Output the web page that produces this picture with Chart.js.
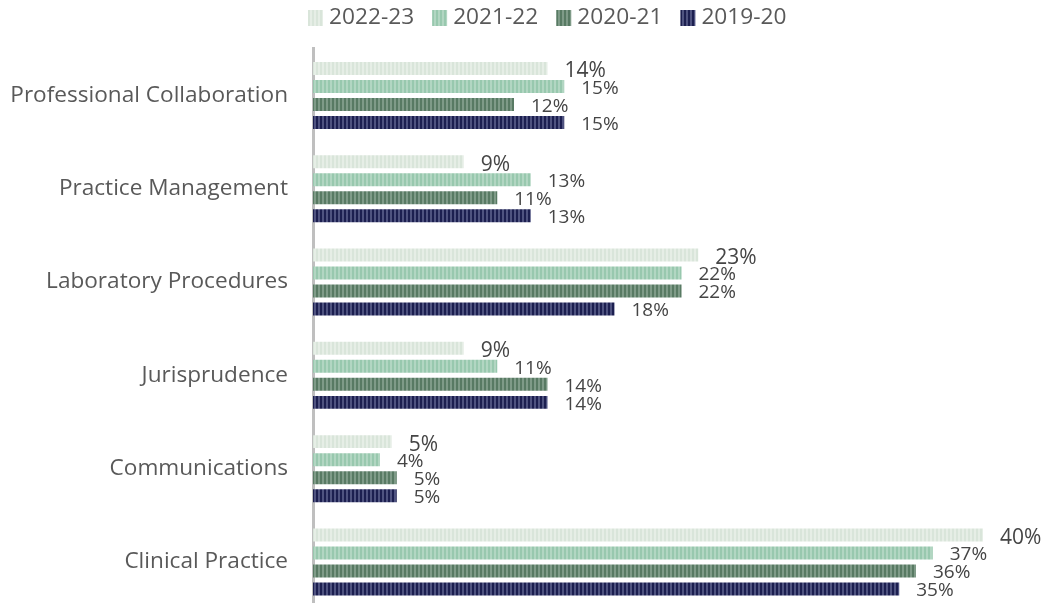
<!DOCTYPE html>
<html>
<head>
<meta charset="utf-8">
<script src="https://cdn.jsdelivr.net/npm/chart.js@4.4.0/dist/chart.umd.min.js"></script>
<style>
  html, body { margin: 0; padding: 0; background: #fff; overflow: hidden; }
  canvas { display: block; }
</style>
</head>
<body>
<canvas id="chart" width="1047" height="620"></canvas>
<script>
// Data
const categories = [
  'Professional Collaboration',
  'Practice Management',
  'Laboratory Procedures',
  'Jurisprudence',
  'Communications',
  'Clinical Practice',
];
const seriesLabels = ['2022-23', '2021-22', '2020-21', '2019-20'];
const values2022 = [14, 9, 23, 9, 4.7, 40];
const values2021 = [15, 13, 22, 11, 4, 37];
const values2020 = [12, 11, 22, 14, 5, 36];
const values2019 = [15, 13, 18, 14, 5, 35];

// Striped fills
const baseColors = ['#d9e5da', '#98c8ae', '#587a63', '#1c1f50'];
const stripeColors = ['#e6eee6', '#b2d6c2', '#7f9b88', '#4f5380'];

const canvas = document.getElementById('chart');
const mainCtx = canvas.getContext('2d');

function stripes(base, stripe) {
  const c = document.createElement('canvas');
  c.width = 4;
  c.height = 4;
  const g = c.getContext('2d');
  g.fillStyle = base;
  g.fillRect(0, 0, 4, 4);
  g.fillStyle = stripe;
  g.fillRect(2, 0, 2, 4);
  return mainCtx.createPattern(c, 'repeat');
}

const textGray = '#595959';
const fontFamily = '"Open Sans", "Noto Sans", sans-serif';

// Legend drawn on top of the chart
const topLegend = {
  id: 'topLegend',
  afterDraw(chart) {
    const ctx = chart.ctx;
    ctx.save();
    ctx.font = `22.7px ${fontFamily}`;
    ctx.textBaseline = 'middle';
    ctx.textAlign = 'left';
    let x = chart.chartArea.left - 5;
    chart.data.datasets.forEach(ds => {
      ctx.fillStyle = ds.backgroundColor;
      ctx.fillRect(x, 10, 15, 16);
      ctx.fillStyle = textGray;
      ctx.fillText(ds.label, x + 21, 18);
      x += 21 + ctx.measureText(ds.label).width + 18;
    });
    ctx.restore();
  },
};

// Value labels next to the bar ends
const valueLabels = {
  id: 'valueLabels',
  afterDatasetsDraw(chart) {
    const ctx = chart.ctx;
    ctx.save();
    ctx.textBaseline = 'middle';
    ctx.textAlign = 'left';
    ctx.fillStyle = '#454545';
    chart.data.datasets.forEach((ds, i) => {
      const meta = chart.getDatasetMeta(i);
      ctx.font = `${i === 0 ? 21 : 19}px ${fontFamily}`;
      meta.data.forEach((bar, j) => {
        ctx.fillText(Math.round(ds.data[j]) + '%', bar.x + 17, bar.y + (i === 0 ? 3 : 2));
      });
    });
    ctx.restore();
  },
};

const allValues = [values2022, values2021, values2020, values2019];

new Chart(canvas, {
  type: 'bar',
  data: {
    labels: categories,
    datasets: seriesLabels.map((label, i) => ({
      label,
      data: allValues[i],
      backgroundColor: stripes(baseColors[i], stripeColors[i]),
      borderWidth: 0,
      categoryPercentage: 0.772,
      barPercentage: 0.72,
    })),
  },
  options: {
    indexAxis: 'y',
    responsive: false,
    animation: false,
    layout: {
      padding: { top: 48.8, bottom: 11.4, left: 0, right: 30.5 },
    },
    scales: {
      x: {
        display: false,
        min: 0,
        max: 42,
      },
      y: {
        z: 1,
        grid: { display: false, drawTicks: false },
        border: { display: true, color: '#bfbfbf', width: 3 },
        ticks: {
          color: textGray,
          padding: 25,
          font: { family: fontFamily, size: 22.6 },
        },
        afterFit: (scale) => {
          scale.width = 313;
          scale.paddingTop = 0;
          scale.paddingBottom = 0;
        },
      },
    },
    plugins: {
      legend: { display: false },
      tooltip: { enabled: false },
    },
  },
  plugins: [topLegend, valueLabels],
});
</script>
</body>
</html>
